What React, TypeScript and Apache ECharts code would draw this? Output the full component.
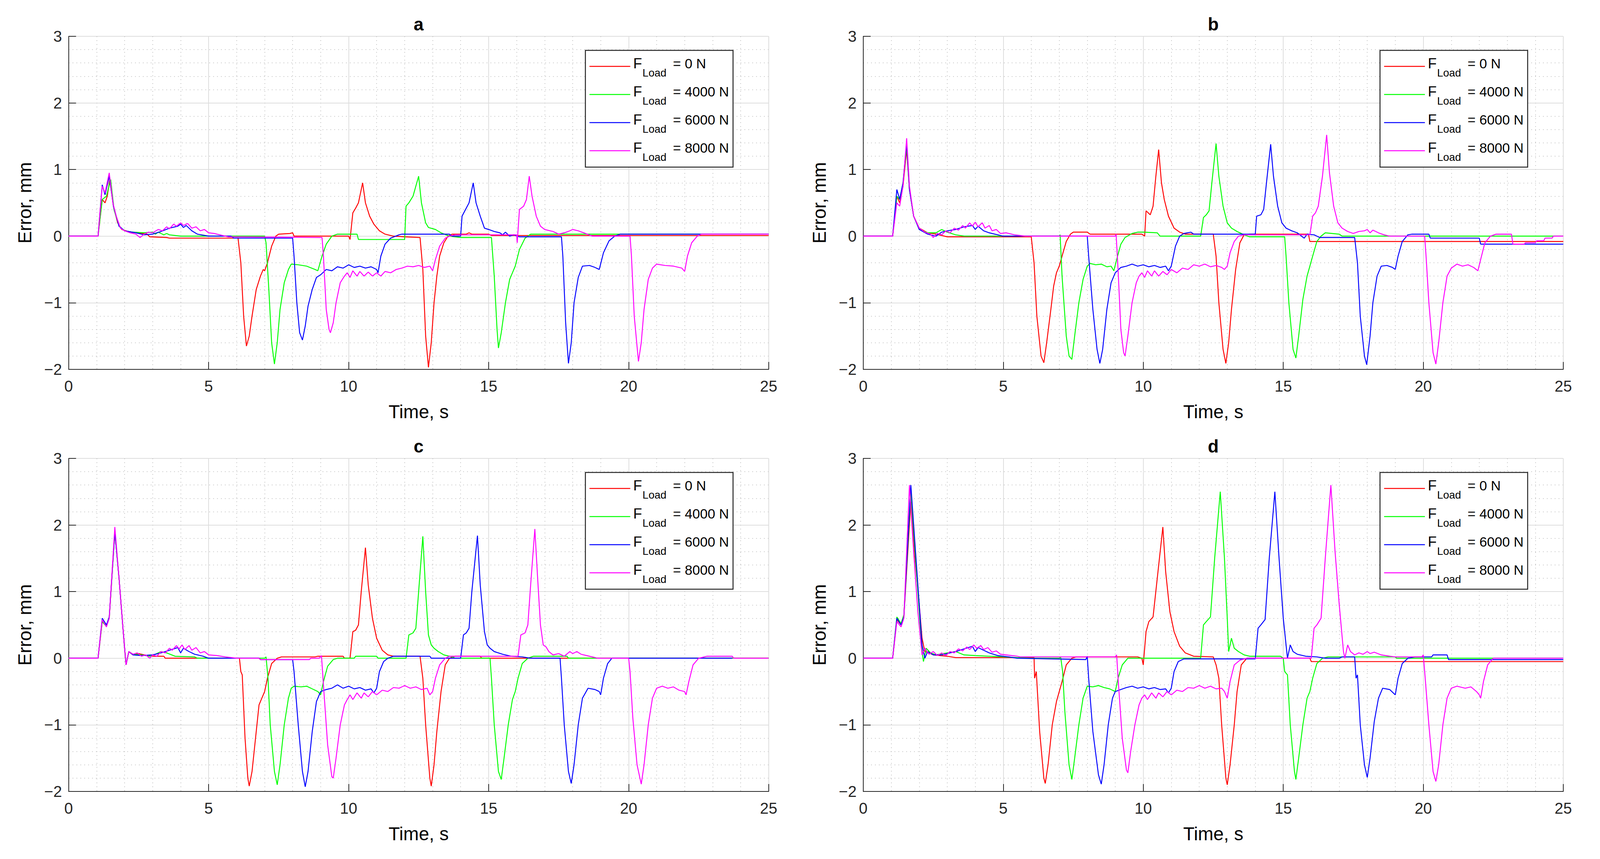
import React, { useEffect, useRef } from "react";
import * as echarts from "echarts";

// ---------- labels ----------
const PANEL_TITLES = ["a", "b", "c", "d"];
const LOAD_LABELS = ["= 0 N", "= 4000 N", "= 6000 N", "= 8000 N"];
const COLORS = ["#ff0000", "#00ff00", "#0000ff", "#ff00ff"];
const X_LABEL = "Time, s";
const Y_LABEL = "Error, mm";

// ---------- panel a ----------
const A_F0 = [[0,0],[1.05,0],[1.2,0.55],[1.3,0.5],[1.38,0.6],[1.47,0.85],[1.6,0.45],[1.75,0.2],[1.9,0.1],[2.2,0.06],[2.5,0.05],[2.8,0.03],[2.9,-0.01],[3.5,-0.02],[3.6,-0.03],[6.05,-0.03],[6.15,-0.4],[6.25,-1.2],[6.35,-1.65],[6.45,-1.5],[6.55,-1.2],[6.7,-0.8],[6.85,-0.6],[6.95,-0.5],[7.0,-0.52],[7.1,-0.4],[7.25,-0.15],[7.4,0],[7.5,0.03],[7.9,0.04],[8.0,0.05],[8.05,0.0],[10.0,0.0],[10.05,-0.05],[10.15,0.35],[10.25,0.42],[10.35,0.5],[10.5,0.8],[10.6,0.5],[10.75,0.3],[10.9,0.18],[11.1,0.08],[11.3,0.03],[11.6,0],[12.0,-0.01],[12.55,-0.02],[12.65,-0.5],[12.75,-1.5],[12.85,-1.97],[12.95,-1.6],[13.05,-1.0],[13.15,-0.6],[13.25,-0.3],[13.4,-0.1],[13.55,0],[13.7,0.03],[14.2,0.03],[14.3,0.05],[14.4,0.03],[15.0,0.03],[15.1,0.01],[25,0.01]];
const A_F4000 = [[0,0],[1.05,0],[1.2,0.55],[1.35,0.6],[1.5,0.85],[1.62,0.4],[1.8,0.15],[2.0,0.08],[2.3,0.06],[2.7,0.05],[3.0,0.06],[3.1,0.03],[3.2,0.06],[3.3,0.04],[3.4,0.02],[3.5,0.04],[3.6,0.02],[4.0,0],[7.0,0],[7.05,-0.1],[7.15,-0.8],[7.25,-1.6],[7.35,-1.92],[7.45,-1.6],[7.55,-1.1],[7.7,-0.7],[7.85,-0.5],[7.95,-0.42],[8.2,-0.43],[8.5,-0.45],[8.8,-0.5],[8.9,-0.52],[9.05,-0.3],[9.2,-0.12],[9.4,0],[9.6,0.03],[10.3,0.03],[10.35,-0.05],[12.0,-0.05],[12.05,0.45],[12.15,0.5],[12.3,0.6],[12.5,0.9],[12.6,0.5],[12.75,0.2],[12.85,0.13],[13.1,0.1],[13.3,0.05],[13.6,0],[14.0,-0.02],[15.1,-0.02],[15.2,-0.6],[15.3,-1.4],[15.35,-1.68],[15.45,-1.45],[15.6,-1.0],[15.75,-0.65],[15.85,-0.55],[15.95,-0.45],[16.1,-0.2],[16.3,-0.03],[16.5,0.03],[25,0.03]];
const A_F6000 = [[0,0],[1.05,0],[1.2,0.77],[1.3,0.62],[1.45,0.9],[1.6,0.45],[1.8,0.15],[2.0,0.08],[2.4,0.05],[2.7,0.02],[3.0,0.03],[3.3,0.07],[3.6,0.12],[3.9,0.15],[4.0,0.18],[4.1,0.13],[4.2,0.16],[4.4,0.08],[4.6,0.03],[5.0,0],[5.8,0],[5.9,-0.03],[8.0,-0.03],[8.05,-0.3],[8.15,-1.0],[8.25,-1.45],[8.35,-1.56],[8.45,-1.35],[8.55,-1.05],[8.7,-0.8],[8.85,-0.62],[9.0,-0.58],[9.2,-0.5],[9.4,-0.52],[9.6,-0.46],[9.8,-0.48],[10.0,-0.43],[10.2,-0.47],[10.4,-0.45],[10.6,-0.48],[10.8,-0.46],[11.0,-0.5],[11.05,-0.55],[11.15,-0.3],[11.3,-0.12],[11.5,-0.03],[11.8,0.02],[11.9,0.03],[13.6,0.03],[13.7,0],[14.0,0],[14.05,0.3],[14.2,0.42],[14.3,0.5],[14.45,0.8],[14.55,0.5],[14.7,0.3],[14.85,0.12],[15.0,0.1],[15.2,0.07],[15.4,0.05],[15.5,0.02],[15.6,0.06],[15.75,0.0],[15.9,0.02],[16.1,-0.01],[17.6,-0.01],[17.65,-0.3],[17.75,-1.3],[17.85,-1.91],[17.95,-1.6],[18.05,-1.0],[18.2,-0.62],[18.35,-0.45],[18.6,-0.44],[18.8,-0.47],[18.95,-0.5],[19.1,-0.25],[19.3,-0.07],[19.5,0.0],[19.7,0.03],[25,0.03]];
const A_F8000 = [[0,0],[1.05,0],[1.2,0.75],[1.3,0.65],[1.45,0.95],[1.58,0.5],[1.7,0.3],[1.85,0.12],[2.0,0.08],[2.2,0.05],[2.4,0.03],[2.55,-0.02],[2.7,0.03],[2.85,0.06],[3.0,0.05],[3.2,0.1],[3.35,0.08],[3.5,0.14],[3.6,0.11],[3.75,0.18],[3.85,0.15],[4.0,0.2],[4.1,0.16],[4.25,0.19],[4.4,0.12],[4.55,0.14],[4.7,0.08],[4.85,0.1],[5.0,0.05],[5.2,0.04],[5.5,0.01],[5.7,-0.01],[9.05,-0.02],[9.1,-0.3],[9.2,-1.1],[9.3,-1.4],[9.35,-1.45],[9.45,-1.3],[9.55,-1.0],[9.7,-0.7],[9.85,-0.6],[9.95,-0.55],[10.05,-0.62],[10.15,-0.52],[10.3,-0.6],[10.4,-0.53],[10.55,-0.6],[10.7,-0.54],[10.85,-0.6],[11.0,-0.55],[11.15,-0.6],[11.3,-0.53],[11.5,-0.55],[11.7,-0.5],[11.9,-0.48],[12.1,-0.45],[12.3,-0.46],[12.5,-0.44],[12.7,-0.47],[12.9,-0.45],[13.0,-0.52],[13.1,-0.35],[13.25,-0.15],[13.45,-0.03],[13.6,0.0],[13.8,0.02],[16.0,0.02],[16.02,-0.1],[16.1,0.4],[16.25,0.45],[16.35,0.55],[16.45,0.9],[16.55,0.6],[16.7,0.3],[16.85,0.15],[17.0,0.1],[17.3,0.07],[17.5,0.03],[17.7,0.05],[17.9,0.08],[18.0,0.1],[18.2,0.08],[18.4,0.05],[18.7,0.0],[20.05,0.0],[20.1,-0.3],[20.2,-1.2],[20.35,-1.88],[20.45,-1.6],[20.55,-1.1],[20.7,-0.65],[20.85,-0.48],[21.0,-0.42],[21.3,-0.44],[21.6,-0.45],[21.9,-0.48],[22.0,-0.53],[22.1,-0.3],[22.25,-0.1],[22.45,0.0],[22.6,0.03],[25,0.03]];

// ---------- panel b ----------
const B_F0 = [[0,0],[1.05,0],[1.2,0.6],[1.3,0.5],[1.42,0.75],[1.55,1.3],[1.65,0.7],[1.8,0.3],[2.0,0.12],[2.3,0.05],[2.6,0.03],[3.0,-0.01],[6.0,-0.01],[6.1,-0.4],[6.2,-1.2],[6.35,-1.8],[6.45,-1.9],[6.55,-1.6],[6.7,-1.1],[6.8,-0.75],[6.9,-0.55],[7.0,-0.45],[7.1,-0.3],[7.25,-0.08],[7.4,0.03],[7.5,0.06],[8.0,0.06],[8.1,0.03],[9.95,0.03],[10.05,0.0],[10.1,0.38],[10.25,0.32],[10.35,0.45],[10.45,0.9],[10.55,1.3],[10.65,0.8],[10.75,0.55],[10.9,0.3],[11.1,0.12],[11.3,0.06],[11.5,0.03],[12.5,0.03],[12.6,-0.3],[12.7,-1.0],[12.85,-1.7],[12.95,-1.91],[13.05,-1.6],[13.15,-1.1],[13.3,-0.5],[13.45,-0.1],[13.6,0.02],[13.8,0.03],[15.9,0.03],[15.95,-0.08],[25,-0.08]];
const B_F4000 = [[0,0],[1.05,0],[1.2,0.6],[1.3,0.55],[1.42,0.8],[1.55,1.35],[1.65,0.7],[1.8,0.3],[2.0,0.1],[2.3,0.05],[2.6,0.05],[2.8,0.1],[3.0,0.06],[3.3,0.02],[3.6,0.0],[7.0,0.0],[7.03,0.02],[7.1,-0.6],[7.25,-1.5],[7.35,-1.8],[7.45,-1.85],[7.55,-1.5],[7.7,-1.0],[7.85,-0.65],[8.0,-0.45],[8.1,-0.41],[8.3,-0.43],[8.5,-0.42],[8.7,-0.46],[8.85,-0.45],[8.95,-0.52],[9.05,-0.35],[9.2,-0.12],[9.35,-0.02],[9.6,0.04],[9.8,0.06],[10.0,0.06],[10.5,0.05],[10.6,0.0],[12.05,0.0],[12.15,0.28],[12.25,0.32],[12.35,0.38],[12.45,0.8],[12.6,1.39],[12.7,0.9],[12.85,0.45],[13.0,0.2],[13.15,0.12],[13.35,0.07],[13.6,0.02],[13.8,-0.01],[15.05,-0.01],[15.1,-0.3],[15.2,-1.0],[15.35,-1.7],[15.45,-1.83],[15.55,-1.5],[15.7,-0.95],[15.85,-0.6],[15.95,-0.45],[16.05,-0.3],[16.2,-0.08],[16.35,0.0],[16.5,0.05],[17.0,0.03],[17.1,0.0],[25,0.0]];
const B_F6000 = [[0,0],[1.05,0],[1.2,0.7],[1.3,0.55],[1.42,0.8],[1.55,1.4],[1.65,0.7],[1.8,0.3],[2.0,0.1],[2.3,0.03],[2.6,0.0],[2.8,0.06],[3.0,0.08],[3.3,0.1],[3.6,0.14],[3.9,0.16],[4.0,0.1],[4.1,0.15],[4.3,0.08],[4.5,0.05],[4.8,0.02],[5.0,0.0],[8.0,0.0],[8.05,-0.3],[8.2,-1.1],[8.35,-1.7],[8.45,-1.91],[8.55,-1.7],[8.7,-1.1],[8.85,-0.7],[9.0,-0.55],[9.2,-0.47],[9.4,-0.45],[9.6,-0.42],[9.8,-0.45],[10.0,-0.43],[10.2,-0.46],[10.4,-0.44],[10.6,-0.47],[10.8,-0.45],[10.9,-0.52],[11.0,-0.45],[11.15,-0.15],[11.3,0.0],[11.45,0.04],[11.7,0.06],[11.8,0.03],[14.0,0.03],[14.05,0.3],[14.2,0.32],[14.3,0.4],[14.4,0.8],[14.55,1.38],[14.65,0.9],[14.8,0.45],[14.95,0.2],[15.1,0.12],[15.3,0.08],[15.5,0.05],[15.65,0.0],[15.75,-0.03],[15.85,0.03],[16.1,0.02],[16.3,-0.02],[17.55,-0.02],[17.65,-0.4],[17.75,-1.2],[17.9,-1.8],[17.98,-1.93],[18.1,-1.5],[18.2,-1.0],[18.35,-0.6],[18.5,-0.45],[18.7,-0.44],[18.9,-0.47],[19.0,-0.5],[19.1,-0.3],[19.25,-0.08],[19.45,0.02],[19.6,0.03],[20.2,0.03],[20.25,-0.03],[22.0,-0.03],[22.05,-0.12],[25,-0.12]];
const B_F8000 = [[0,0],[1.05,0],[1.2,0.5],[1.3,0.45],[1.42,0.75],[1.55,1.47],[1.65,0.75],[1.8,0.3],[2.0,0.12],[2.2,0.06],[2.4,0.03],[2.5,-0.02],[2.65,0.04],[2.8,0.02],[2.95,0.08],[3.1,0.05],[3.25,0.12],[3.4,0.09],[3.55,0.16],[3.65,0.12],[3.8,0.2],[3.9,0.15],[4.0,0.21],[4.1,0.14],[4.25,0.2],[4.35,0.12],[4.5,0.16],[4.6,0.08],[4.75,0.1],[4.9,0.04],[5.1,0.05],[5.4,0.02],[5.8,0.0],[9.0,0.0],[9.03,0.03],[9.1,-0.5],[9.2,-1.4],[9.3,-1.75],[9.35,-1.8],[9.45,-1.5],[9.6,-1.0],[9.75,-0.7],[9.85,-0.6],[9.95,-0.55],[10.05,-0.62],[10.15,-0.52],[10.3,-0.6],[10.4,-0.52],[10.55,-0.6],[10.7,-0.53],[10.85,-0.58],[11.0,-0.5],[11.2,-0.55],[11.4,-0.48],[11.6,-0.5],[11.8,-0.43],[12.0,-0.45],[12.2,-0.42],[12.4,-0.46],[12.6,-0.44],[12.8,-0.47],[12.9,-0.5],[13.0,-0.45],[13.1,-0.25],[13.25,-0.08],[13.4,0.0],[13.6,0.02],[15.95,0.02],[16.05,0.3],[16.15,0.35],[16.25,0.45],[16.4,0.9],[16.55,1.52],[16.65,0.95],[16.8,0.45],[16.95,0.2],[17.1,0.12],[17.3,0.07],[17.5,0.04],[17.7,0.07],[17.9,0.08],[18.0,0.1],[18.1,0.05],[18.2,0.09],[18.4,0.05],[18.6,0.02],[18.8,0.0],[20.05,0.0],[20.1,-0.3],[20.2,-1.0],[20.35,-1.75],[20.45,-1.92],[20.55,-1.6],[20.7,-1.0],[20.85,-0.6],[21.0,-0.48],[21.2,-0.42],[21.4,-0.45],[21.6,-0.43],[21.8,-0.47],[21.95,-0.52],[22.05,-0.35],[22.2,-0.1],[22.4,0.0],[22.6,0.03],[23.15,0.03],[23.2,-0.12],[23.6,-0.12],[23.65,-0.1],[24.0,-0.1],[24.05,-0.07],[24.3,-0.07],[24.35,-0.03],[24.6,-0.03],[24.65,0.0],[25,0.0]];

// ---------- panel c ----------
const C_F0 = [[0,0],[1.05,0],[1.2,0.55],[1.35,0.48],[1.45,0.6],[1.65,1.9],[1.8,1.2],[1.95,0.4],[2.05,-0.1],[2.15,0.1],[2.3,0.05],[2.5,0.07],[2.8,0.04],[3.0,0.03],[3.4,0.03],[3.45,0.0],[6.1,0.0],[6.15,-0.2],[6.2,-0.25],[6.3,-1.2],[6.4,-1.8],[6.45,-1.92],[6.55,-1.7],[6.7,-1.1],[6.8,-0.7],[6.9,-0.6],[7.0,-0.5],[7.1,-0.3],[7.25,-0.08],[7.45,0.0],[7.6,0.02],[8.8,0.02],[8.9,0.03],[9.8,0.03],[9.85,0.0],[10.05,0.0],[10.15,0.4],[10.25,0.42],[10.35,0.5],[10.45,1.0],[10.6,1.66],[10.7,1.1],[10.85,0.6],[11.0,0.3],[11.2,0.12],[11.4,0.05],[11.6,0.03],[12.55,0.03],[12.65,-0.3],[12.75,-1.0],[12.9,-1.8],[12.95,-1.92],[13.05,-1.6],[13.15,-1.1],[13.3,-0.5],[13.45,-0.1],[13.6,0.0],[13.8,0.03],[14.7,0.03],[14.75,0.0],[25,0.0]];
const C_F4000 = [[0,0],[1.05,0],[1.2,0.55],[1.35,0.48],[1.45,0.6],[1.65,1.9],[1.8,1.2],[1.95,0.4],[2.05,-0.1],[2.15,0.1],[2.3,0.06],[2.6,0.05],[2.9,0.03],[3.1,0.06],[3.3,0.1],[3.5,0.08],[3.8,0.03],[4.5,0.02],[4.6,0.0],[7.0,0.0],[7.05,0.02],[7.12,-0.3],[7.2,-1.0],[7.35,-1.7],[7.45,-1.9],[7.55,-1.6],[7.7,-1.0],[7.85,-0.6],[7.95,-0.45],[8.05,-0.42],[8.3,-0.43],[8.5,-0.42],[8.7,-0.46],[8.9,-0.5],[9.0,-0.55],[9.1,-0.35],[9.25,-0.12],[9.45,-0.02],[9.6,0.0],[10.2,0.0],[10.25,0.03],[11.0,0.03],[11.05,0.0],[12.05,0.0],[12.15,0.35],[12.3,0.38],[12.4,0.45],[12.5,1.0],[12.65,1.83],[12.75,1.0],[12.85,0.35],[12.95,0.2],[13.05,0.15],[13.2,0.1],[13.4,0.05],[13.7,0.02],[13.8,0.0],[15.05,0.0],[15.1,-0.3],[15.2,-1.0],[15.35,-1.7],[15.45,-1.82],[15.55,-1.5],[15.7,-1.0],[15.85,-0.62],[15.95,-0.5],[16.05,-0.3],[16.2,-0.08],[16.4,0.0],[16.6,0.03],[17.8,0.03],[17.85,0.0],[25,0.0]];
const C_F6000 = [[0,0],[1.05,0],[1.2,0.6],[1.35,0.5],[1.45,0.62],[1.65,1.9],[1.8,1.2],[1.95,0.4],[2.05,-0.1],[2.15,0.1],[2.3,0.05],[2.6,0.04],[3.0,0.05],[3.3,0.08],[3.6,0.12],[3.9,0.16],[4.0,0.08],[4.1,0.15],[4.3,0.1],[4.5,0.06],[4.8,0.03],[5.0,0.0],[6.8,0.0],[6.85,-0.02],[8.0,-0.02],[8.05,-0.2],[8.2,-1.0],[8.35,-1.7],[8.45,-1.93],[8.55,-1.7],[8.7,-1.1],[8.85,-0.65],[9.0,-0.5],[9.2,-0.47],[9.4,-0.45],[9.6,-0.4],[9.8,-0.45],[10.0,-0.42],[10.2,-0.46],[10.4,-0.44],[10.6,-0.48],[10.8,-0.46],[10.9,-0.52],[11.0,-0.45],[11.1,-0.2],[11.25,-0.05],[11.4,0.0],[11.6,0.03],[12.9,0.03],[12.95,0.0],[14.0,0.0],[14.1,0.35],[14.2,0.38],[14.3,0.45],[14.4,1.0],[14.6,1.84],[14.7,1.1],[14.85,0.4],[14.95,0.2],[15.05,0.15],[15.2,0.1],[15.5,0.06],[15.8,0.03],[16.2,0.02],[16.5,0.0],[17.55,0.0],[17.6,-0.3],[17.7,-1.0],[17.85,-1.7],[17.95,-1.88],[18.05,-1.6],[18.2,-1.0],[18.35,-0.6],[18.55,-0.45],[18.8,-0.47],[18.95,-0.5],[19.0,-0.55],[19.1,-0.3],[19.25,-0.08],[19.4,0.0],[23.7,0.0]];
const C_F8000 = [[0,0],[1.05,0],[1.2,0.58],[1.35,0.47],[1.45,0.6],[1.65,1.97],[1.8,1.2],[1.95,0.4],[2.05,-0.1],[2.15,0.1],[2.3,0.06],[2.45,0.08],[2.6,0.03],[2.75,0.05],[2.9,0.0],[3.0,0.05],[3.15,0.03],[3.3,0.1],[3.45,0.08],[3.6,0.15],[3.7,0.12],[3.85,0.19],[3.95,0.14],[4.05,0.2],[4.15,0.13],[4.3,0.19],[4.4,0.12],[4.55,0.16],[4.7,0.08],[4.85,0.1],[5.0,0.05],[5.3,0.04],[5.6,0.02],[6.0,0.0],[6.8,0.0],[6.85,-0.02],[8.6,-0.02],[8.65,0.0],[8.95,0.0],[9.03,0.04],[9.1,-0.4],[9.25,-1.3],[9.4,-1.78],[9.45,-1.8],[9.55,-1.5],[9.7,-1.0],[9.85,-0.7],[9.95,-0.62],[10.05,-0.55],[10.15,-0.62],[10.3,-0.52],[10.45,-0.6],[10.55,-0.52],[10.7,-0.58],[10.85,-0.5],[11.0,-0.55],[11.2,-0.48],[11.4,-0.5],[11.6,-0.44],[11.8,-0.45],[12.0,-0.41],[12.2,-0.45],[12.4,-0.43],[12.6,-0.47],[12.8,-0.45],[12.9,-0.55],[13.0,-0.5],[13.1,-0.3],[13.25,-0.1],[13.45,0.0],[13.6,0.03],[16.05,0.03],[16.15,0.35],[16.3,0.38],[16.4,0.5],[16.5,1.1],[16.65,1.94],[16.75,1.2],[16.85,0.5],[16.95,0.2],[17.05,0.17],[17.15,0.1],[17.3,0.05],[17.5,0.07],[17.7,0.03],[17.9,0.1],[18.0,0.07],[18.15,0.1],[18.3,0.06],[18.5,0.04],[18.7,0.02],[18.9,0.0],[20.0,0.0],[20.05,-0.2],[20.15,-0.9],[20.3,-1.6],[20.45,-1.89],[20.55,-1.6],[20.7,-1.0],[20.85,-0.6],[21.0,-0.45],[21.2,-0.42],[21.4,-0.45],[21.6,-0.43],[21.8,-0.48],[22.0,-0.5],[22.05,-0.55],[22.15,-0.35],[22.3,-0.1],[22.5,0.0],[22.8,0.03],[23.7,0.03],[23.75,0.0],[25,0.0]];

// ---------- panel d ----------
const D_F0 = [[0,0],[1.05,0],[1.2,0.58],[1.35,0.5],[1.45,0.62],[1.7,2.35],[1.85,1.5],[2.0,0.8],[2.1,0.3],[2.2,0.1],[2.35,0.08],[2.5,0.05],[3.0,0.03],[3.3,0.01],[6.1,0.01],[6.12,-0.3],[6.18,-0.2],[6.3,-1.1],[6.45,-1.8],[6.5,-1.88],[6.6,-1.6],[6.75,-1.0],[6.9,-0.65],[7.0,-0.5],[7.1,-0.35],[7.25,-0.1],[7.45,0.0],[7.6,0.02],[9.8,0.02],[9.95,0.0],[10.0,-0.1],[10.1,0.4],[10.2,0.55],[10.35,0.62],[10.5,1.2],[10.7,1.97],[10.8,1.3],[10.95,0.7],[11.1,0.4],[11.3,0.18],[11.5,0.08],[11.8,0.03],[12.5,0.02],[12.6,-0.1],[12.7,-0.3],[12.8,-1.0],[12.95,-1.8],[13.0,-1.9],[13.1,-1.6],[13.25,-1.0],[13.35,-0.5],[13.5,-0.1],[13.7,0.0],[15.95,0.0],[16.0,-0.05],[25,-0.05]];
const D_F4000 = [[0,0],[1.05,0],[1.2,0.62],[1.35,0.52],[1.45,0.65],[1.7,2.5],[1.85,1.6],[2.0,0.7],[2.1,0.1],[2.15,-0.05],[2.25,0.15],[2.4,0.08],[2.6,0.05],[3.0,0.08],[3.3,0.1],[3.6,0.05],[4.0,0.04],[5.0,0.02],[6.0,0.0],[7.0,0.0],[7.05,0.02],[7.12,-0.2],[7.2,-0.8],[7.35,-1.6],[7.45,-1.82],[7.55,-1.5],[7.7,-1.0],[7.85,-0.6],[8.0,-0.42],[8.2,-0.43],[8.4,-0.41],[8.6,-0.44],[8.8,-0.46],[9.0,-0.5],[9.1,-0.3],[9.25,-0.1],[9.45,0.0],[12.05,0.0],[12.15,0.5],[12.25,0.55],[12.4,0.62],[12.55,1.5],[12.75,2.5],[12.9,1.5],[13.0,0.6],[13.05,0.1],[13.15,0.3],[13.25,0.15],[13.4,0.1],[13.6,0.05],[13.8,0.03],[14.9,0.03],[15.0,0.0],[15.05,-0.2],[15.15,-0.25],[15.25,-1.0],[15.4,-1.7],[15.45,-1.82],[15.55,-1.5],[15.7,-1.0],[15.85,-0.6],[15.95,-0.5],[16.05,-0.3],[16.2,-0.08],[16.4,0.0],[16.6,0.02],[19.0,0.02],[19.05,0.0],[25,0.0]];
const D_F6000 = [[0,0],[1.05,0],[1.2,0.6],[1.35,0.5],[1.45,0.62],[1.7,2.6],[1.85,1.7],[2.0,0.8],[2.1,0.2],[2.2,0.0],[2.3,0.1],[2.5,0.05],[2.8,0.05],[3.0,0.07],[3.3,0.1],[3.6,0.14],[3.9,0.18],[4.0,0.1],[4.1,0.16],[4.3,0.12],[4.5,0.08],[4.8,0.04],[5.2,0.02],[5.5,0.0],[7.95,-0.02],[8.0,0.03],[8.05,-0.3],[8.2,-1.1],[8.4,-1.75],[8.5,-1.89],[8.6,-1.6],[8.75,-1.0],[8.9,-0.6],[9.0,-0.5],[9.2,-0.47],[9.4,-0.44],[9.6,-0.42],[9.8,-0.45],[10.0,-0.43],[10.2,-0.46],[10.4,-0.44],[10.6,-0.47],[10.8,-0.46],[10.9,-0.52],[11.0,-0.45],[11.1,-0.2],[11.25,-0.05],[11.45,-0.01],[14.0,-0.01],[14.1,0.45],[14.2,0.5],[14.35,0.58],[14.5,1.5],[14.7,2.5],[14.85,1.5],[15.0,0.6],[15.15,0.0],[15.25,0.2],[15.35,0.1],[15.5,0.06],[15.8,0.03],[16.2,0.02],[16.5,0.0],[17.0,0.0],[17.1,0.02],[17.55,0.02],[17.6,-0.3],[17.65,-0.25],[17.75,-1.0],[17.9,-1.6],[18.0,-1.79],[18.1,-1.5],[18.25,-0.95],[18.4,-0.6],[18.55,-0.45],[18.8,-0.47],[19.0,-0.55],[19.1,-0.3],[19.25,-0.08],[19.45,0.0],[19.7,0.02],[20.3,0.02],[20.35,0.05],[20.85,0.05],[20.9,-0.02],[25,-0.02]];
const D_F8000 = [[0,0],[1.05,0],[1.2,0.55],[1.35,0.47],[1.45,0.6],[1.65,2.6],[1.8,1.6],[1.95,0.7],[2.1,0.05],[2.2,0.15],[2.35,0.06],[2.5,0.1],[2.65,0.04],[2.8,0.08],[2.95,0.04],[3.1,0.1],[3.25,0.08],[3.4,0.14],[3.55,0.11],[3.7,0.17],[3.8,0.13],[3.95,0.2],[4.05,0.15],[4.2,0.19],[4.3,0.13],[4.45,0.16],[4.6,0.09],[4.75,0.11],[4.9,0.06],[5.1,0.05],[5.5,0.03],[5.6,0.02],[9.0,0.02],[9.05,0.05],[9.1,-0.3],[9.25,-1.2],[9.4,-1.68],[9.45,-1.72],[9.55,-1.4],[9.7,-1.0],[9.85,-0.7],[9.95,-0.6],[10.05,-0.55],[10.15,-0.62],[10.3,-0.52],[10.45,-0.6],[10.55,-0.52],[10.7,-0.58],[10.85,-0.5],[11.0,-0.55],[11.2,-0.48],[11.4,-0.5],[11.6,-0.44],[11.8,-0.45],[12.0,-0.41],[12.2,-0.45],[12.4,-0.42],[12.6,-0.46],[12.8,-0.45],[12.9,-0.5],[13.0,-0.6],[13.1,-0.35],[13.25,-0.1],[13.45,-0.03],[13.7,0.0],[16.0,0.0],[16.1,0.45],[16.2,0.5],[16.35,0.6],[16.5,1.5],[16.7,2.6],[16.85,1.6],[17.0,0.8],[17.15,0.1],[17.2,0.0],[17.3,0.2],[17.4,0.1],[17.55,0.05],[17.7,0.08],[17.85,0.06],[18.0,0.1],[18.1,0.07],[18.25,0.09],[18.5,0.05],[18.8,0.03],[19.0,0.02],[19.95,0.02],[20.0,0.05],[20.05,-0.2],[20.2,-1.0],[20.35,-1.7],[20.45,-1.85],[20.55,-1.6],[20.7,-1.0],[20.85,-0.6],[21.0,-0.45],[21.2,-0.42],[21.5,-0.45],[21.7,-0.43],[21.9,-0.5],[22.0,-0.55],[22.05,-0.6],[22.15,-0.35],[22.3,-0.1],[22.5,0.0],[25,0.0]];

const PANEL_SERIES = [
  [A_F0, A_F4000, A_F6000, A_F8000],
  [B_F0, B_F4000, B_F6000, B_F8000],
  [C_F0, C_F4000, C_F6000, C_F8000],
  [D_F0, D_F4000, D_F6000, D_F8000],
];

// ---------- layout (in reference pixels, scaled to the real viewport) ----------
const FONT = "'Liberation Sans', Arial, Helvetica, sans-serif";
const REF_W = 4313;
const REF_H = 2200;
const PW = 1887;
const PH = 853;
const LEFTS = [185, 2327, 185, 2327];
const TOPS = [93, 93, 1174, 1174];
const AXIS_COLOR = "#262626";

function minus(v: number) {
  return v < 0 ? "\u2212" + Math.abs(v) : String(v);
}

function buildOption(sx: number, sy: number) {
  const sf = Math.min(sx, sy);
  const X = (v: number) => v * sx;
  const Y = (v: number) => v * sy;
  const F = (v: number) => Math.round(v * sf * 10) / 10;

  const grid = LEFTS.map((l, i) => ({ left: X(l), top: Y(TOPS[i]), width: X(PW), height: Y(PH), containLabel: false }));
  const common = (i: number) => ({
    type: "value" as const,
    gridIndex: i,
    axisLine: { show: true, onZero: false, lineStyle: { color: AXIS_COLOR, width: 2 } },
    axisTick: { show: true, inside: true, length: F(20), lineStyle: { color: AXIS_COLOR, width: 2 } },
    splitLine: { show: true, lineStyle: { color: "#dedede", width: 2 } },
    minorTick: { show: false, splitNumber: 5 },
    minorSplitLine: { show: true, lineStyle: { color: "#c6c6c6", width: 2, type: [2, 8] } },
  });
  const xAxis = LEFTS.map((_, i) => ({
    ...common(i),
    min: 0,
    max: 25,
    interval: 5,
    axisLabel: { margin: F(24), fontSize: F(42), color: AXIS_COLOR, fontFamily: FONT, showMinLabel: true, showMaxLabel: true },
  }));
  const yAxis = LEFTS.map((_, i) => ({
    ...common(i),
    min: -2,
    max: 3,
    interval: 1,
    axisLabel: { margin: F(18), fontSize: F(42), color: AXIS_COLOR, fontFamily: FONT, formatter: minus, showMinLabel: true, showMaxLabel: true },
  }));
  const series: any[] = [];
  PANEL_SERIES.forEach((group, i) => {
    group.forEach((data, j) => {
      series.push({
        type: "line",
        name: PANEL_TITLES[i] + " F" + LOAD_LABELS[j],
        xAxisIndex: i,
        yAxisIndex: i,
        data,
        showSymbol: false,
        symbol: "none",
        silent: true,
        lineStyle: { color: COLORS[j], width: 2.4 },
        itemStyle: { color: COLORS[j] },
      });
    });
  });

  const graphic: any[] = [];
  LEFTS.forEach((l, i) => {
    const t = TOPS[i];
    graphic.push({
      type: "text", z: 50, x: X(l + PW / 2), y: Y(t - 31),
      style: { text: PANEL_TITLES[i], font: `bold ${F(48)}px ${FONT}`, fill: "#000", align: "center", verticalAlign: "middle" },
    });
    graphic.push({
      type: "text", z: 50, x: X(l + PW / 2), y: Y(t + 961),
      style: { text: X_LABEL, font: `${F(50)}px ${FONT}`, fill: "#000", align: "center", verticalAlign: "middle" },
    });
    graphic.push({
      type: "text", z: 50, x: X(l - 118), y: Y(t + PH / 2), rotation: Math.PI / 2,
      style: { text: Y_LABEL, font: `${F(50)}px ${FONT}`, fill: "#000", align: "center", verticalAlign: "middle" },
    });
    const bx = l + 1393;
    const by = t + 36;
    graphic.push({
      type: "rect", z: 60, shape: { x: X(bx), y: Y(by), width: X(398), height: Y(299) },
      style: { fill: "#ffffff", stroke: AXIS_COLOR, lineWidth: 2.5 },
    });
    LOAD_LABELS.forEach((lab, j) => {
      const ry = by + 41 + j * 72;
      graphic.push({
        type: "line", z: 61, shape: { x1: X(bx + 11), y1: Y(ry), x2: X(bx + 121), y2: Y(ry) },
        style: { stroke: COLORS[j], lineWidth: 2.4 },
      });
      graphic.push({
        type: "text", z: 61, x: X(bx + 129), y: Y(ry - 8),
        style: { text: "F", font: `${F(39)}px ${FONT}`, fill: "#000", align: "left", verticalAlign: "middle" },
      });
      graphic.push({
        type: "text", z: 61, x: X(bx + 154), y: Y(ry + 16),
        style: { text: "Load", font: `${F(29)}px ${FONT}`, fill: "#000", align: "left", verticalAlign: "middle" },
      });
      graphic.push({
        type: "text", z: 61, x: X(bx + 236), y: Y(ry - 8),
        style: { text: lab, font: `${F(37)}px ${FONT}`, fill: "#000", align: "left", verticalAlign: "middle" },
      });
    });
  });

  return {
    animation: false,
    backgroundColor: "#ffffff",
    grid,
    xAxis,
    yAxis,
    series,
    graphic,
  };
}

export default function App() {
  const ref = useRef<HTMLDivElement>(null);
  useEffect(() => {
    if (!ref.current) return;
    document.body.style.margin = "0";
    document.body.style.overflow = "hidden";
    document.documentElement.style.overflow = "hidden";
    const el = ref.current;
    const w = el.clientWidth || REF_W;
    const h = el.clientHeight || REF_H;
    const chart = echarts.init(el, null, { renderer: "svg", width: w, height: h });
    chart.setOption(buildOption(w / REF_W, h / REF_H) as any);
    return () => chart.dispose();
  }, []);
  return (
    <div
      ref={ref}
      style={{ position: "fixed", left: 0, top: 0, width: "100vw", height: "100vh", background: "#fff" }}
    />
  );
}
